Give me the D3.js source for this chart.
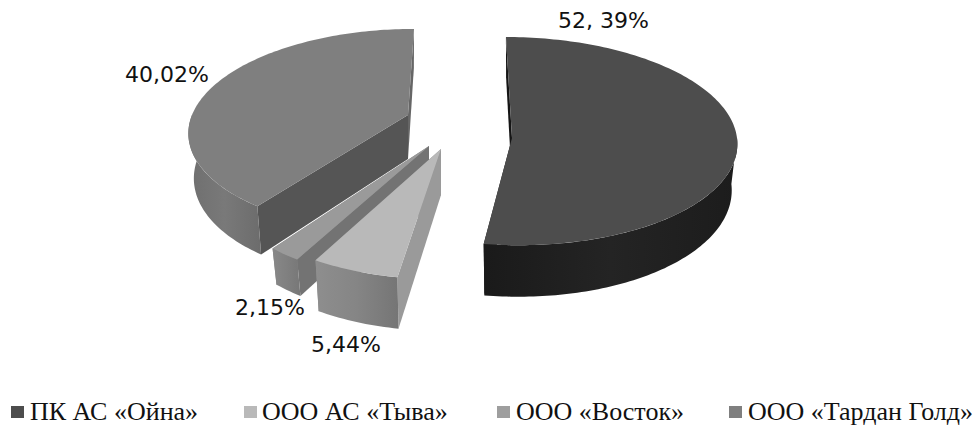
<!DOCTYPE html>
<html>
<head>
<meta charset="utf-8">
<script src="https://cdn.jsdelivr.net/npm/d3@7"></script>
<style>
    html, body { margin: 0; padding: 0; background: #ffffff; }
    svg { display: block; }
</style>
</head>
<body>
<div id="chart"></div>
<script>
// Chart data
const companies = ["ПК АС «Ойна»", "ООО АС «Тыва»", "ООО «Восток»", "ООО «Тардан Голд»"];
const shares = [52.39, 5.44, 2.15, 40.02];
const shareLabels = ["52, 39%", "5,44%", "2,15%", "40,02%"];

// Per-slice look: the original 3D pie has each slice pulled out and foreshortened on its own
const sliceGeometry = [
    { cx: 512, cy: 138, rx: 225, ry: 104, persp: 0.03, shear: 0.06, depth: 46 },
    { cx: 441, cy: 149, rx: 213, ry: 104, persp: 0.2, shear: -0.03, depth: 46 },
    { cx: 429, cy: 146, rx: 205, ry: 106, persp: 0.2, shear: -0.126, depth: 33 },
    { cx: 408, cy: 115, rx: 216, ry: 99, persp: 0.15, shear: -0.07, depth: 44 }
];
const sliceColors = [
    { top: "#4d4d4d", wall: ["#1a1a1a", "#242424", "#1c1c1c"], start: "#151515", end: "#151515" },
    { top: "#b9b9b9", wall: ["#8e8e8e", "#858585", "#757575"], start: "#9a9a9a", end: "#8e8e8e" },
    { top: "#9a9a9a", wall: ["#888888", "#808080", "#777777"], start: "#737373", end: "#888888" },
    { top: "#7f7f7f", wall: ["#6f6f6f", "#797979", "#6c6c6c"], start: "#555555", end: "#666666" }
];
const labelPositions = [[558, 28], [311, 352], [235, 315], [125, 82]];
const legendSwatchX = [11, 244, 497, 729];
const legendTextX = [30, 262, 516, 748];
const legendColors = ["#4d4d4d", "#b9b9b9", "#9e9e9e", "#7f7f7f"];

const width = 978;
const height = 427;

const svg = d3.select("#chart").append("svg")
    .attr("width", width)
    .attr("height", height)
    .attr("viewBox", `0 0 ${width} ${height}`);

const defs = svg.append("defs");

// Project a pie angle onto the tilted disc, lower = point on the bottom rim
function project(geo, angle, radius, lower) {
    const u = Math.sin(angle) * radius;
    const v = -Math.cos(angle) * radius;
    const p = 1 / (1 - geo.persp * v);
    let y = geo.ry * v * p;
    let x = geo.rx * u * p + geo.shear * y;
    if (lower) {
        x *= 0.975;
        y += geo.depth * (1 + 0.12 * v);
    }
    return [geo.cx + x, geo.cy + y];
}

const line = d3.line();
const pie = d3.pie().sort(null).startAngle(0).endAngle(2 * Math.PI);
const arcs = pie(shares);

function rimPoints(geo, a0, a1, lower) {
    const n = Math.max(2, Math.ceil((a1 - a0) / 0.02));
    return d3.range(n + 1).map(i => project(geo, a0 + (a1 - a0) * i / n, 1, lower));
}

function sideFace(geo, angle) {
    return [
        project(geo, angle, 0, false),
        project(geo, angle, 1, false),
        project(geo, angle, 1, true),
        project(geo, angle, 0, true)
    ];
}

// Back to front, the same order the slices overlap in the original
const drawOrder = [3, 2, 1, 0];

drawOrder.forEach((i) => {
    const geo = sliceGeometry[i];
    const col = sliceColors[i];
    const a = arcs[i];
    const g = svg.append("g").attr("class", "slice").attr("data-company", companies[i]);

    const grad = defs.append("linearGradient")
        .attr("id", `wall-${i}`)
        .attr("x1", "0%").attr("x2", "100%").attr("y1", "0%").attr("y2", "0%");
    col.wall.forEach((c, j) => {
        grad.append("stop").attr("offset", `${j * 50}%`).attr("stop-color", c);
    });

    g.append("path")
        .attr("d", line(sideFace(geo, a.endAngle)) + "Z")
        .attr("fill", col.end);
    g.append("path")
        .attr("d", line(sideFace(geo, a.startAngle)) + "Z")
        .attr("fill", col.start);

    // Only the front half of the outer wall can be seen
    const wallStart = Math.max(a.startAngle, Math.PI / 2);
    const wallEnd = Math.min(a.endAngle, 3 * Math.PI / 2);
    const upper = rimPoints(geo, wallStart, wallEnd, false);
    const lower = rimPoints(geo, wallStart, wallEnd, true).reverse();
    g.append("path")
        .attr("d", line(upper.concat(lower)) + "Z")
        .attr("fill", `url(#wall-${i})`);

    const topRim = rimPoints(geo, a.startAngle, a.endAngle, false);
    g.append("path")
        .attr("d", line([project(geo, 0, 0, false)].concat(topRim)) + "Z")
        .attr("fill", col.top);
});

// Value labels
svg.append("g").selectAll("text")
    .data(shareLabels)
    .join("text")
    .attr("x", (d, i) => labelPositions[i][0])
    .attr("y", (d, i) => labelPositions[i][1])
    .attr("font-family", "'DejaVu Sans', sans-serif")
    .attr("font-size", 22)
    .attr("fill", "#111111")
    .text(d => d);

// Legend
const legend = svg.append("g").attr("class", "legend");
companies.forEach((name, i) => {
    legend.append("rect")
        .attr("x", legendSwatchX[i])
        .attr("y", 406)
        .attr("width", 13)
        .attr("height", 12)
        .attr("fill", legendColors[i]);
    legend.append("text")
        .attr("x", legendTextX[i])
        .attr("y", 420)
        .attr("font-family", "'Liberation Serif', serif")
        .attr("font-size", 26)
        .attr("fill", "#111111")
        .text(name);
});
</script>
</body>
</html>
